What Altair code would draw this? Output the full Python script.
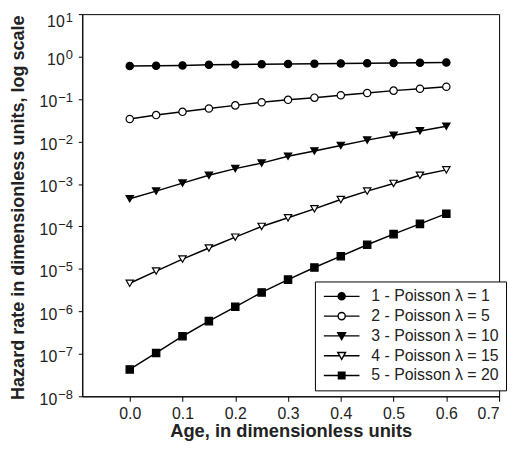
import altair as alt
import pandas as pd

ages = [0.0, 0.05, 0.1, 0.15, 0.2, 0.25, 0.3, 0.35, 0.4, 0.45, 0.5, 0.55, 0.6]
s1 = [0.60, 0.61, 0.62, 0.64, 0.65, 0.66, 0.67, 0.68, 0.69, 0.70, 0.71, 0.72, 0.73]
s2 = [0.034, 0.042, 0.050, 0.060, 0.071, 0.084, 0.096, 0.108, 0.123, 0.139, 0.158, 0.175, 0.195]
s3 = [4.5e-4, 6.8e-4, 1.05e-3, 1.6e-3, 2.3e-3, 3.1e-3, 4.5e-3, 6.0e-3, 8.1e-3, 1.08e-2, 1.4e-2, 1.78e-2, 2.3e-2]
s4 = [4.6e-6, 8.9e-6, 1.7e-5, 3.1e-5, 5.6e-5, 1.0e-4, 1.6e-4, 2.6e-4, 4.3e-4, 6.8e-4, 1.03e-3, 1.6e-3, 2.15e-3]
s5 = [4.3e-8, 1.05e-7, 2.6e-7, 5.9e-7, 1.28e-6, 2.8e-6, 5.6e-6, 1.08e-5, 2.0e-5, 3.7e-5, 6.6e-5, 1.15e-4, 2.0e-4]
labels = ["1 - Poisson \u03bb = 1", "2 - Poisson \u03bb = 5",
          "3 - Poisson \u03bb = 10", "4 - Poisson \u03bb = 15",
          "5 - Poisson \u03bb = 20"]
x_ticks = [0.0, 0.1, 0.2, 0.3, 0.4, 0.5, 0.6, 0.7]
y_ticks = [1e1, 1e0, 1e-1, 1e-2, 1e-3, 1e-4, 1e-5, 1e-6, 1e-7, 1e-8]
y_exponents = ["1", "0", "\u22121", "\u22122", "\u22123", "\u22124", "\u22125", "\u22126", "\u22127", "\u22128"]

rows = []
for lab, vals in zip(labels, [s1, s2, s3, s4, s5]):
    for a, v in zip(ages, vals):
        rows.append({"age": a, "hazard": v, "series": lab})
df = pd.DataFrame(rows)

# exponent label expression for the log axis
expr = "''"
for v, t in reversed(list(zip(y_ticks, y_exponents))):
    expr = f"datum.value >= {v*0.5} ? '{t}' : ({expr})"

FONT = "Liberation Sans"
TXT = "#222"

xscale = alt.Scale(domain=[-0.09, 0.7], nice=False, zero=False)
yscale = alt.Scale(type="log", domain=[1e-8, 10], nice=False)

x = alt.X("age:Q", scale=xscale,
          axis=alt.Axis(values=x_ticks, format=".1f", title="Age, in dimensionless units",
                        grid=False, tickSize=5, labelPadding=4,
                        titleX=210.5, titleY=35, titleBaseline="middle"))

# main y axis: the "10" base of each tick label
y_main = alt.Y("hazard:Q", scale=yscale,
               axis=alt.Axis(values=y_ticks, labelExpr="'10'", orient="left",
                             title="Hazard rate in dimensionless units, log scale",
                             grid=False, tickSize=4,
                             labelPadding={"condition": {"test": "datum.value >= 0.5", "value": 14.2},
                                           "value": 21.8},
                             labelBaseline="middle",
                             labelOffset={"condition": {"test": "datum.value >= 5", "value": 7.5},
                                          "value": 3},
                             titleX=-64, titleY=195, titleBaseline="middle", titleAngle=270,
                             titleFontSize=18.2))
# second y axis on the same scale: the superscript exponents
y_exp = alt.Y("hazard:Q", scale=yscale,
              axis=alt.Axis(values=y_ticks, labelExpr=expr, orient="left", title=None,
                            grid=False, ticks=False, domain=False, labelAlign="right",
                            labelPadding=10, labelFontSize=13, labelBaseline="alphabetic",
                            labelOffset={"condition": {"test": "datum.value >= 5", "value": 7},
                                         "value": 2}))
y_none = alt.Y("hazard:Q", scale=yscale, axis=None)

marker_shapes = ["circle", "circle", "triangle-down", "triangle-down", "square"]
marker_sizes = [55, 55, 70, 70, 50]
fills = ["black", "white", "black", "white", "black"]
strokes = ["black"] * 5

circ = "M0.6,0A0.6,0.6,0,1,1,-0.6,0A0.6,0.6,0,1,1,0.6,0Z"
tri = "M-0.66,-0.55L0.66,-0.55L0,0.6Z"
sq = "M-0.55,-0.55H0.55V0.55H-0.55Z"


def with_line(p, h):
    return f"M-3,0H{-h}M{h},0H3" + p


legend_shapes = [with_line(circ, 0.6), with_line(circ, 0.6), with_line(tri, 0.3),
                 with_line(tri, 0.3), with_line(sq, 0.55)]

lines = alt.Chart(df).mark_line(color="black", strokeWidth=1.5).encode(
    x=x, y=y_main, detail="series:N")

points = alt.Chart(df).mark_point(filled=True, stroke="black", strokeWidth=1.2, opacity=1).encode(
    x=x, y=y_exp,
    shape=alt.Shape("series:N", scale=alt.Scale(domain=labels, range=marker_shapes), legend=None),
    fill=alt.Fill("series:N", scale=alt.Scale(domain=labels, range=fills), legend=None),
    size=alt.Size("series:N", scale=alt.Scale(domain=labels, range=marker_sizes), legend=None),
)

leg = alt.Legend(title=None, orient="none", legendX=235, legendY=270,
                 fillColor="white", strokeColor="black", padding=7,
                 symbolSize=144, symbolStrokeColor="black", symbolStrokeWidth=1.4,
                 symbolOpacity=1, symbolOffset=12, labelOffset=22,
                 labelFont=FONT, labelFontSize=16, labelColor=TXT, rowPadding=4)

legend_layer = alt.Chart(df).transform_calculate(leg="datum.series").mark_point(
    filled=False, opacity=0).encode(
    x=x, y=y_none,
    shape=alt.Shape("leg:N", scale=alt.Scale(domain=labels, range=legend_shapes), legend=leg),
    fill=alt.Fill("leg:N", scale=alt.Scale(domain=labels, range=fills), legend=leg),
    stroke=alt.Stroke("leg:N", scale=alt.Scale(domain=labels, range=strokes), legend=leg),
)

chart = alt.layer(lines, points, legend_layer).resolve_scale(
    shape="independent", fill="independent", size="independent", stroke="independent"
).resolve_axis(y="independent").properties(
    width=421, height=386,
    autosize=alt.AutoSizeParams(type="none"),
    padding={"left": 75, "top": 4, "right": 10, "bottom": 50},
).configure_view(stroke="black", strokeWidth=1).configure_axis(
    domainColor="black", tickColor="black", labelFont=FONT, labelFontSize=16,
    labelColor=TXT, titleFont=FONT, titleFontSize=18.5, titleFontWeight="bold",
    titleColor=TXT
)

chart.save("out.html", embed_options={"renderer": "svg", "actions": False})
